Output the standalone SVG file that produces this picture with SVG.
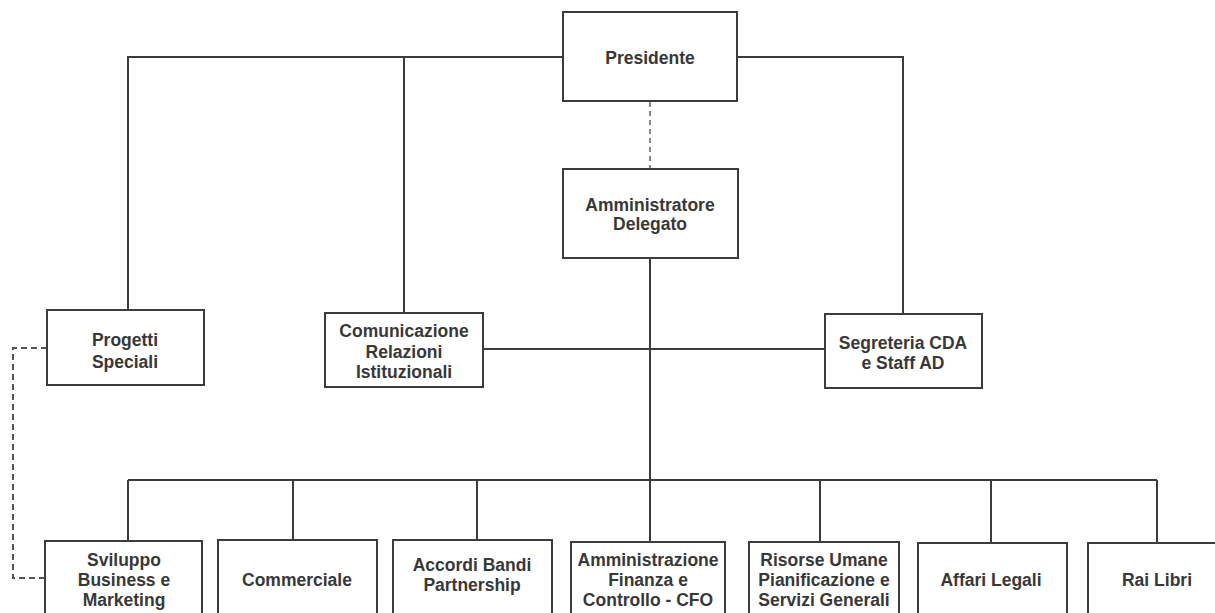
<svg xmlns="http://www.w3.org/2000/svg" width="1215" height="613" viewBox="0 0 1215 613">
<style>
.box{fill:#fff;stroke:#3c3c3c;stroke-width:2}
.ln{fill:none;stroke:#3c3c3c;stroke-width:2}
.dash{fill:none;stroke:#555;stroke-width:2;stroke-dasharray:6,4}
.dashv{fill:none;stroke:#888;stroke-width:2;stroke-dasharray:5,4}
text{font-family:"Liberation Sans",Arial,sans-serif;font-weight:bold;font-size:17.5px;fill:#383838;text-anchor:middle}
</style>
<rect width="1215" height="613" fill="#fff"/>
<g id="connectors">
<polyline class="ln" points="128,310 128,57 563,57"/>
<line class="ln" x1="404" y1="57" x2="404" y2="313"/>
<polyline class="ln" points="737,57 903,57 903,314"/>
<line class="dashv" x1="650" y1="102" x2="650" y2="169"/>
<line class="ln" x1="483" y1="349" x2="825" y2="349"/>
<line class="ln" x1="650" y1="258" x2="650" y2="542"/>
<line class="ln" x1="128" y1="480" x2="1157" y2="480"/>
<line class="ln" x1="128" y1="480" x2="128" y2="541"/>
<line class="ln" x1="293" y1="480" x2="293" y2="540"/>
<line class="ln" x1="477" y1="480" x2="477" y2="540"/>
<line class="ln" x1="820" y1="480" x2="820" y2="542"/>
<line class="ln" x1="991" y1="480" x2="991" y2="543"/>
<line class="ln" x1="1157" y1="480" x2="1157" y2="543"/>
<polyline class="dash" points="47,348 13,348 13,578 45,578"/>
</g>
<g id="presidente"><rect class="box" x="563" y="12" width="174" height="89"/><text x="650" y="64">Presidente</text></g>
<g id="ad"><rect class="box" x="563" y="169" width="175" height="89"/><text x="650" y="211">Amministratore</text><text x="650" y="230">Delegato</text></g>
<g id="progetti"><rect class="box" x="47" y="310" width="157" height="75"/><text x="125" y="346">Progetti</text><text x="125" y="368">Speciali</text></g>
<g id="comunicazione"><rect class="box" x="325" y="313" width="158" height="74"/><text x="404" y="337">Comunicazione</text><text x="404" y="358">Relazioni</text><text x="404" y="378">Istituzionali</text></g>
<g id="segreteria"><rect class="box" x="825" y="314" width="157" height="74"/><text x="903" y="349">Segreteria CDA</text><text x="903" y="369">e Staff AD</text></g>
<g id="sviluppo"><rect class="box" x="45" y="541" width="157" height="80"/><text x="124" y="566">Sviluppo</text><text x="124" y="586">Business e</text><text x="124" y="606">Marketing</text></g>
<g id="commerciale"><rect class="box" x="218" y="540" width="159" height="80"/><text x="297" y="586">Commerciale</text></g>
<g id="accordi"><rect class="box" x="393" y="540" width="159" height="80"/><text x="472" y="571">Accordi Bandi</text><text x="472" y="591">Partnership</text></g>
<g id="amministrazione"><rect class="box" x="571" y="542" width="154" height="80"/><text x="648" y="566">Amministrazione</text><text x="648" y="586">Finanza e</text><text x="648" y="606">Controllo - CFO</text></g>
<g id="risorse"><rect class="box" x="749" y="542" width="150" height="80"/><text x="824" y="566">Risorse Umane</text><text x="824" y="586">Pianificazione e</text><text x="824" y="606">Servizi Generali</text></g>
<g id="affari"><rect class="box" x="918" y="543" width="149" height="80"/><text x="991" y="586">Affari Legali</text></g>
<g id="railibri"><rect class="box" x="1088" y="543" width="140" height="80"/><text x="1157" y="586">Rai Libri</text></g>
</svg>
